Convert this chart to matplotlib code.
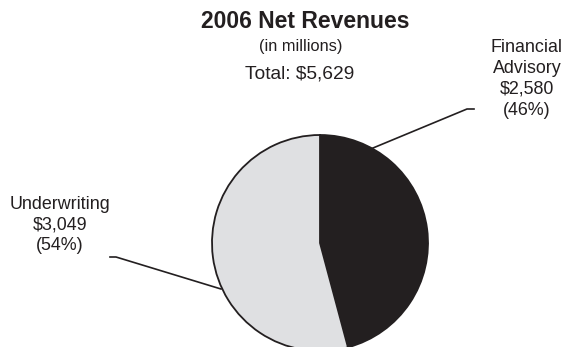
import matplotlib
matplotlib.use("Agg")
import matplotlib.pyplot as plt

# 2006 net revenues by segment, in millions
segments = ["Financial\nAdvisory", "Underwriting"]
revenues = [2580, 3049]
colors = ["#231f20", "#dfe0e2"]

total = sum(revenues)
shares = [round(100 * v / total) for v in revenues]

W, H = 566, 347
plt.rcParams['font.family'] = ['Liberation Sans', 'DejaVu Sans']

fig = plt.figure(figsize=(W / 100, H / 100), dpi=100)
ax = fig.add_axes([0, 0, 1, 1])

def py(y):
    # image rows count from the top
    return H - y

ax.pie(revenues, colors=colors, startangle=90, counterclock=False,
       center=(320, py(243)), radius=108, frame=True,
       wedgeprops=dict(edgecolor="#231f20", linewidth=1.3))
ax.set_xlim(0, W)
ax.set_ylim(0, H)
ax.set_aspect("auto")
ax.axis("off")

ink = "#231f20"
ax.text(305, py(21), "2006 Net Revenues", ha="center", va="center",
        fontsize=16.5, fontweight="bold", color=ink)
ax.text(301, py(46), "(in millions)", ha="center", va="center",
        fontsize=11.8, color=ink)
ax.text(300, py(74), f"Total: ${total:,}", ha="center", va="center",
        fontsize=13.8, color=ink)

labels = [f"{s}\n${v:,}\n({p}%)" for s, v, p in zip(segments, revenues, shares)]
ax.text(527, py(79), labels[0], ha="center", va="center",
        fontsize=12.9, color=ink, linespacing=1.3)
ax.text(60, py(225), labels[1], ha="center", va="center",
        fontsize=12.9, color=ink, linespacing=1.3)

# leader lines
ax.plot([373, 467, 474], [py(148), py(109), py(109)], color=ink, lw=1.2)
ax.plot([110, 116, 221], [py(257), py(257), py(289)], color=ink, lw=1.2)

fig.savefig("out.png", dpi=100)
